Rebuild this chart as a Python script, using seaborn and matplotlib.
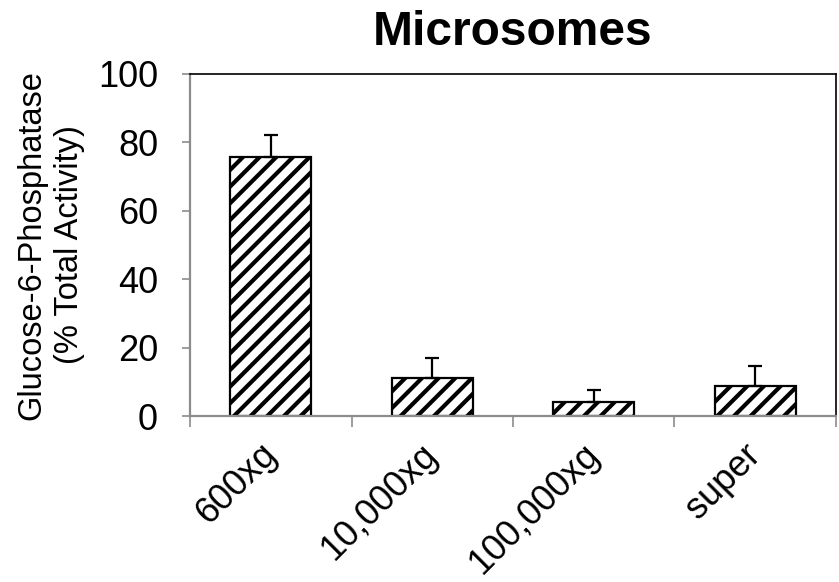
import matplotlib
matplotlib.use("Agg")
import matplotlib.pyplot as plt
import seaborn as sns
import pandas as pd

categories = ["600xg", "10,000xg", "100,000xg", "super"]
activity = [75.8, 11.0, 4.2, 8.9]
errors = [6.3, 5.9, 3.3, 5.6]

sns.set_theme(style="white")
plt.rcParams["font.family"] = ["Liberation Sans", "DejaVu Sans"]
plt.rcParams["hatch.linewidth"] = 3.0
plt.rcParams["hatch.color"] = "black"
plt.rcParams["text.color"] = "black"
plt.rcParams["axes.labelcolor"] = "black"
plt.rcParams["xtick.labelcolor"] = "black"
plt.rcParams["ytick.labelcolor"] = "black"

df = pd.DataFrame({"fraction": categories, "activity": activity})

fig = plt.figure(figsize=(8.39, 5.82), dpi=100)
ax = fig.add_axes([0.2265, 0.2852, 0.7699, 0.5877])

sns.barplot(data=df, x="fraction", y="activity", order=categories,
            color="white", edgecolor="black", linewidth=1.6, width=0.5,
            errorbar=None, ax=ax)
for p in ax.patches:
    p.set_hatch("//")
    p.set_facecolor("white")

xpos = list(range(len(categories)))
ax.errorbar(xpos, activity, yerr=[[0] * len(errors), errors], fmt="none",
            ecolor="black", elinewidth=1.6, capsize=4.7, capthick=1.6, zorder=1)

ax.set_xlim(-0.5, 3.5)
ax.set_ylim(0, 100)
ax.set_yticks([0, 20, 40, 60, 80, 100])
ax.set_xticks(xpos)
ax.set_xticklabels(categories, rotation=45, ha="right", va="center",
                   rotation_mode="anchor", fontsize=26, color="black")
ax.set_xticks([-0.5, 0.5, 1.5, 2.5, 3.5], minor=True)
ax.tick_params(axis="x", which="major", length=0, pad=24)
ax.tick_params(axis="x", which="minor", length=8, width=1.2, color="#8c8c8c",
               direction="out", bottom=True)
ax.tick_params(axis="y", which="major", length=6, width=1.2, color="#8c8c8c",
               direction="out", left=True, labelsize=26, pad=17,
               labelcolor="black")

for s in ["left", "bottom"]:
    ax.spines[s].set_color("#8c8c8c")
    ax.spines[s].set_linewidth(1.6)
for s in ["top", "right"]:
    ax.spines[s].set_visible(True)
    ax.spines[s].set_color("black")
    ax.spines[s].set_linewidth(1.2)

ax.set_xlabel("")
ax.set_ylabel("Glucose-6-Phosphatase\n(% Total Activity)", fontsize=23.5,
              labelpad=9, linespacing=1.3, color="black")
ax.set_title("Microsomes", fontsize=34.5, fontweight="bold", pad=21,
             color="black")

fig.savefig("out.png", dpi=100)
